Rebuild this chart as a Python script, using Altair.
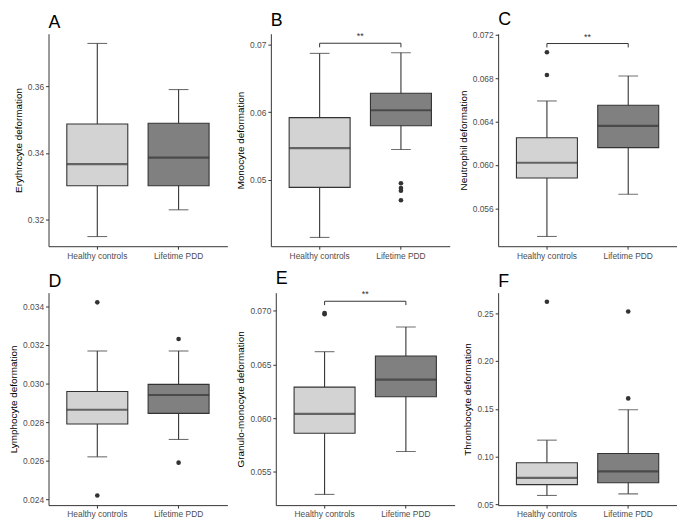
import altair as alt
import pandas as pd

groups = ["Healthy controls", "Lifetime PDD"]
fills = ["#D3D3D3", "#808080"]
letters = ["A", "B", "C", "D", "E", "F"]
y_titles = ["Erythrocyte deformation", "Monocyte deformation", "Neutrophil deformation",
            "Lymphocyte deformation", "Granulo-monocyte deformation", "Thrombocyte deformation"]

lower = [[0.3150, 0.3230], [0.0415, 0.0545], [0.0534, 0.0573],
         [0.0262, 0.0271], [0.0529, 0.0569], [0.0595, 0.0612]]
q1 = [[0.3302, 0.3302], [0.0489, 0.0580], [0.0588, 0.0616],
      [0.0279, 0.02845], [0.0586, 0.0620], [0.0708, 0.0728]]
median = [[0.3367, 0.3386], [0.0547, 0.0603], [0.0602, 0.0636],
          [0.02864, 0.0294], [0.0604, 0.0636], [0.0779, 0.0847]]
q3 = [[0.3487, 0.3489], [0.0592, 0.0628], [0.0625, 0.0655],
      [0.02958, 0.02995], [0.0629, 0.0658], [0.0936, 0.1034]]
upper = [[0.3728, 0.3590], [0.0687, 0.0688], [0.0659, 0.0682],
         [0.03168, 0.03168], [0.0662, 0.0685], [0.1173, 0.1490]]
outliers = [[[], []],
            [[], [0.0495, 0.0488, 0.0484, 0.0470]],
            [[0.0704, 0.0683], []],
            [[0.0342, 0.0242], [0.0323, 0.0259]],
            [[0.0698, 0.0697], []],
            [[0.2619], [0.2517, 0.1609]]]
signif = ["", "**", "**", "", "**", ""]
bracket_y = [None, 0.0702, 0.0712, None, 0.0709, None]
bracket_drop = [None, 0.0006, 0.00036, None, 0.00036, None]

y_domains = [[0.3121, 0.3757], [0.0402, 0.0716], [0.0525, 0.0721],
             [0.0237, 0.0347], [0.0519, 0.0717], [0.0494, 0.2714]]
y_ticks = [[0.32, 0.34, 0.36], [0.05, 0.06, 0.07],
           [0.056, 0.060, 0.064, 0.068, 0.072],
           [0.024, 0.026, 0.028, 0.030, 0.032, 0.034],
           [0.055, 0.060, 0.065, 0.070], [0.05, 0.10, 0.15, 0.20, 0.25]]
y_formats = [".2f", ".2f", ".3f", ".3f", ".3f", ".2f"]

W = 181
H = 215
DARK = "#333333"


def panel(i):
    box = pd.DataFrame({"group": groups, "lower": lower[i], "q1": q1[i],
                        "median": median[i], "q3": q3[i], "upper": upper[i]})
    yscale = alt.Scale(domain=y_domains[i], nice=False, zero=False)
    yaxis = alt.Axis(values=y_ticks[i], format=y_formats[i], title=y_titles[i])
    xenc = alt.X("group:N", sort=groups,
                 scale=alt.Scale(domain=groups, paddingInner=0.25, paddingOuter=0.225),
                 axis=alt.Axis(title=None, labelAngle=0))
    base = alt.Chart(box)
    whisk = base.mark_rule(color=DARK, strokeWidth=1.1).encode(
        x=xenc, y=alt.Y("lower:Q", scale=yscale, axis=yaxis), y2="upper:Q")
    cap_lo = base.mark_tick(orient="horizontal", size=20, thickness=1.1, color=DARK).encode(
        x=xenc, y=alt.Y("lower:Q", scale=yscale))
    cap_hi = base.mark_tick(orient="horizontal", size=20, thickness=1.1, color=DARK).encode(
        x=xenc, y=alt.Y("upper:Q", scale=yscale))
    boxes = base.mark_bar(stroke=DARK, strokeWidth=1.1, opacity=1).encode(
        x=xenc, y=alt.Y("q1:Q", scale=yscale), y2="q3:Q",
        color=alt.Color("group:N", scale=alt.Scale(domain=groups, range=fills), legend=None))
    med = base.mark_tick(orient="horizontal", size=W / 2.2 * 0.75, thickness=2.2, color=DARK).encode(
        x=xenc, y=alt.Y("median:Q", scale=yscale))
    layers = [whisk, cap_lo, cap_hi, boxes, med]

    orows = [{"group": g, "value": v} for g, vals in zip(groups, outliers[i]) for v in vals]
    if orows:
        pts = alt.Chart(pd.DataFrame(orows)).mark_circle(size=22, color=DARK, opacity=1).encode(
            x=xenc, y=alt.Y("value:Q", scale=yscale))
        layers.append(pts)

    if signif[i]:
        b = bracket_y[i]
        d = bracket_drop[i]
        br = pd.DataFrame({"group": [groups[0], groups[0], groups[1], groups[1]],
                           "y": [b - d, b, b, b - d], "ord": [0, 1, 2, 3]})
        line = alt.Chart(br).mark_line(color=DARK, strokeWidth=1).encode(
            x=xenc, y=alt.Y("y:Q", scale=yscale), order="ord:Q")
        txt = alt.Chart(pd.DataFrame({"label": [signif[i]], "y": [b]})).mark_text(
            baseline="bottom", dy=-2, fontSize=9, color=DARK).encode(
            x=alt.value(W / 2), y=alt.Y("y:Q", scale=yscale), text="label:N")
        layers += [line, txt]

    return alt.layer(*layers).properties(
        width=W, height=H,
        title=alt.TitleParams(letters[i], anchor="start", frame="group", fontSize=18,
                              fontWeight="normal", font="Liberation Sans", color="black", offset=2))


row1 = alt.hconcat(panel(0), panel(1), panel(2), spacing=8)
row2 = alt.hconcat(panel(3), panel(4), panel(5), spacing=8)
chart = alt.vconcat(row1, row2, spacing=10).properties(
    padding={"left": 0, "top": 0, "right": 0, "bottom": 0}
).configure_view(stroke=None).configure_axis(
    grid=False, domainColor=DARK, tickColor=DARK, tickSize=3,
    labelColor="#4D4D4D", labelFont="Liberation Sans", labelFontSize=8.5,
    titleFont="Liberation Sans", titleFontSize=10, titleFontWeight="normal",
    titleColor="black", titlePadding=4, labelPadding=2
)

chart.save("out.html", embed_options={"renderer": "svg", "actions": False})
